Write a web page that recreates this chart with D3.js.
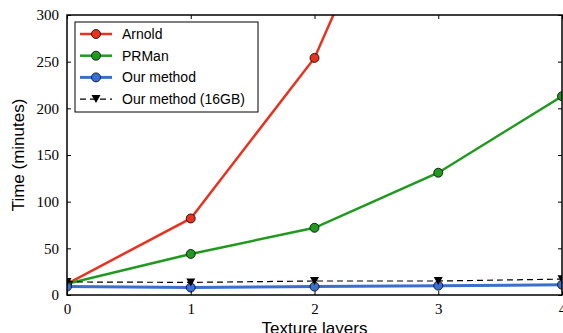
<!DOCTYPE html>
<html>
<head>
<meta charset="utf-8">
<script src="https://cdn.jsdelivr.net/npm/d3@7"></script>
<style>
  body { margin: 0; background: #fff; }
  svg { display: block; }
</style>
</head>
<body>
<div id="chart"></div>
<script>
// values
const layers = [0, 1, 2, 3, 4];
const arnold = [12, 82, 254, 555, 900];
const prman = [12, 44, 72, 131, 213];
const ours = [9, 8, 9, 10, 11];
const ours16 = [14, 13.5, 15, 15, 17];
const yTicks = [0, 50, 100, 150, 200, 250, 300];

const series = [
  {name: 'Arnold', values: arnold, color: '#e8321e', width: 2.5, marker: 'circle'},
  {name: 'PRMan', values: prman, color: '#1f9a1f', width: 2.5, marker: 'circle'},
  {name: 'Our method', values: ours, color: '#3a6fd0', width: 3, marker: 'circle'},
  {name: 'Our method (16GB)', values: ours16, color: '#000', width: 1.2, marker: 'tri', dash: '6,4'}
];

const W = 563, H = 333;
const margin = {left: 67, right: 1, top: 15, bottom: 38};

const svg = d3.select('#chart').append('svg')
  .attr('width', W).attr('height', H);

const x = d3.scaleLinear().domain([0, 4]).range([margin.left, W - margin.right]);
const y = d3.scaleLinear().domain([0, 300]).range([H - margin.bottom, margin.top]);

// clip to the axes box like matplotlib does
svg.append('clipPath').attr('id', 'plot')
  .append('rect')
  .attr('x', x(0)).attr('y', y(300))
  .attr('width', x(4) - x(0)).attr('height', y(0) - y(300));

const plot = svg.append('g').attr('clip-path', 'url(#plot)');

const line = d3.line()
  .x((d, i) => x(layers[i]))
  .y(d => y(d));

const triPath = 'M-4.5,-4 L4.5,-4 L0,4 Z';

series.forEach(s => {
  plot.append('path')
    .attr('d', line(s.values))
    .attr('fill', 'none')
    .attr('stroke', s.color)
    .attr('stroke-width', s.width)
    .attr('stroke-dasharray', s.dash || null);

  s.values.forEach((v, i) => {
    if (s.marker === 'circle') {
      plot.append('circle')
        .attr('cx', x(layers[i])).attr('cy', y(v))
        .attr('r', 4.5)
        .attr('fill', s.color)
        .attr('stroke', '#000').attr('stroke-width', 0.8);
    } else {
      plot.append('path')
        .attr('d', triPath)
        .attr('transform', `translate(${x(layers[i])},${y(v)})`)
        .attr('fill', '#000');
    }
  });
});

// axes, ticks pointing inward on every side
const tickFont = '"Liberation Serif", "DejaVu Serif", serif';

const axBottom = svg.append('g')
  .attr('transform', `translate(0,${y(0)})`)
  .call(d3.axisBottom(x).tickValues(layers).tickSize(-4).tickPadding(8).tickFormat(d3.format('d')));
const axTop = svg.append('g')
  .attr('transform', `translate(0,${y(300)})`)
  .call(d3.axisTop(x).tickValues(layers).tickSize(-4).tickFormat(''));
const axLeft = svg.append('g')
  .attr('transform', `translate(${x(0)},0)`)
  .call(d3.axisLeft(y).tickValues(yTicks).tickSize(-4).tickPadding(8));
const axRight = svg.append('g')
  .attr('transform', `translate(${x(4)},0)`)
  .call(d3.axisRight(y).tickValues(yTicks).tickSize(-4).tickFormat(''));

[axBottom, axTop, axLeft, axRight].forEach(g => {
  g.select('.domain').remove();
  g.selectAll('.tick line').attr('stroke', '#000').attr('stroke-width', 1);
  g.selectAll('text').attr('font-family', tickFont).attr('font-size', 15).attr('fill', '#000');
});

svg.append('rect')
  .attr('x', x(0)).attr('y', y(300))
  .attr('width', x(4) - x(0)).attr('height', y(0) - y(300))
  .attr('fill', 'none').attr('stroke', '#000').attr('stroke-width', 1.5);

// axis titles
const sans = '"Liberation Sans", Arial, sans-serif';
svg.append('text')
  .attr('x', (x(0) + x(4)) / 2).attr('y', 334)
  .attr('text-anchor', 'middle')
  .attr('font-family', sans).attr('font-size', 17)
  .text('Texture layers');

svg.append('text')
  .attr('transform', `translate(24,${(y(0) + y(300)) / 2}) rotate(-90)`)
  .attr('text-anchor', 'middle')
  .attr('font-family', sans).attr('font-size', 17)
  .text('Time (minutes)');

// legend
const lg = svg.append('g').attr('transform', 'translate(75,22)');
lg.append('rect')
  .attr('width', 183).attr('height', 90)
  .attr('fill', '#fff').attr('stroke', '#000').attr('stroke-width', 1);

series.forEach((s, i) => {
  const cy = 12 + i * 21.7;
  lg.append('line')
    .attr('x1', 5).attr('x2', 37).attr('y1', cy).attr('y2', cy)
    .attr('stroke', s.color).attr('stroke-width', s.width)
    .attr('stroke-dasharray', s.dash || null);
  if (s.marker === 'circle') {
    lg.append('circle').attr('cx', 21).attr('cy', cy).attr('r', 4.5)
      .attr('fill', s.color).attr('stroke', '#000').attr('stroke-width', 0.8);
  } else {
    lg.append('path').attr('d', triPath)
      .attr('transform', `translate(21,${cy})`).attr('fill', '#000');
  }
  lg.append('text')
    .attr('x', 47).attr('y', cy + 5)
    .attr('font-family', sans).attr('font-size', 14)
    .text(s.name);
});
</script>
</body>
</html>
